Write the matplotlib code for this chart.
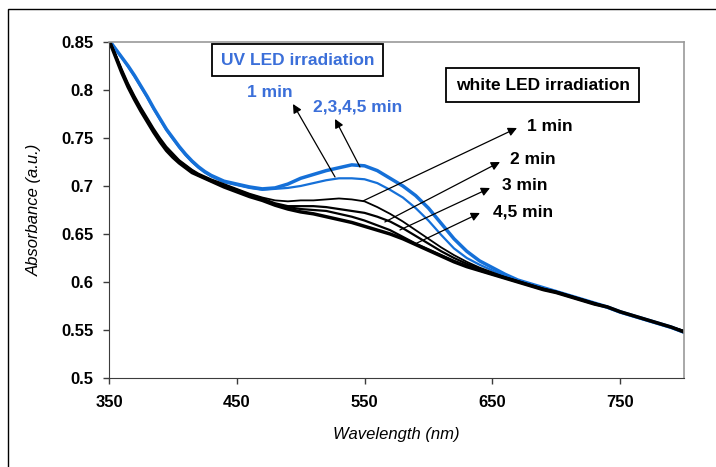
from matplotlib import pyplot as plt
from matplotlib.patches import Rectangle
import numpy as np

plt.rcParams['font.family'] = ['Liberation Sans', 'DejaVu Sans']

# wavelength grid (nm)
wl = [350, 355, 360, 365, 370, 375, 380, 385, 390, 395, 400, 405, 410, 415, 420, 425, 430,
      440, 450, 460, 470, 480, 490, 500, 510, 520, 530, 540, 550, 560, 570, 580, 590, 600,
      610, 620, 630, 640, 650, 660, 670, 680, 690, 700, 710, 720, 730, 740, 750, 760, 770,
      780, 790, 800]

# UV LED irradiation
uv_1min = [.852, .843, .834, .824, .814, .803, .792, .780, .769, .758, .749, .740, .732, .725, .719, .714, .710,
           .704, .701, .698, .696, .697, .698, .700, .703, .706, .708, .708, .707, .703, .696, .688, .677, .664,
           .649, .635, .625, .618, .612, .606, .601, .597, .593, .589, .585, .581, .577, .573, .568, .564, .560,
           .556, .552, .547]
uv_2to5min = [.852, .843, .834, .825, .815, .804, .793, .781, .770, .759, .750, .741, .733, .726, .720, .715, .711,
              .705, .702, .699, .697, .698, .702, .708, .712, .716, .719, .722, .721, .716, .708, .700, .690, .677,
              .661, .645, .632, .622, .615, .608, .602, .598, .594, .590, .586, .582, .578, .574, .569, .565, .561,
              .557, .553, .548]

# white LED irradiation
w_1min = [.852, .838, .822, .807, .794, .782, .771, .760, .750, .741, .734, .727, .722, .717, .713, .710, .707,
          .702, .697, .692, .688, .685, .684, .685, .685, .686, .687, .686, .684, .678, .671, .663, .654, .645,
          .636, .628, .621, .615, .610, .605, .601, .597, .593, .590, .586, .582, .578, .574, .569, .565, .561,
          .557, .553, .549]
w_2min = [.852, .837, .820, .805, .792, .780, .769, .758, .748, .739, .732, .726, .721, .716, .712, .709, .706,
          .701, .696, .691, .687, .682, .679, .679, .679, .678, .676, .674, .672, .668, .663, .656, .648, .640,
          .632, .625, .619, .614, .609, .605, .601, .597, .593, .590, .586, .582, .578, .574, .569, .565, .561,
          .557, .553, .549]
w_3min = [.852, .836, .819, .804, .791, .779, .768, .757, .747, .738, .731, .725, .720, .715, .711, .708, .705,
          .700, .695, .690, .686, .681, .678, .676, .675, .674, .671, .668, .664, .659, .654, .647, .640, .634,
          .628, .622, .617, .612, .608, .604, .600, .596, .592, .589, .585, .581, .577, .574, .569, .565, .561,
          .557, .553, .548]
w_45min = [.852, .835, .818, .803, .790, .778, .767, .756, .746, .737, .730, .724, .719, .714, .711, .708, .705,
           .699, .694, .689, .685, .680, .676, .673, .671, .668, .665, .662, .658, .654, .650, .645, .639, .633,
           .627, .621, .616, .612, .608, .604, .600, .596, .592, .589, .585, .581, .577, .574, .569, .565, .561,
           .557, .553, .548]

xticks = [350, 450, 550, 650, 750]
yticks = [0.5, 0.55, 0.6, 0.65, 0.7, 0.75, 0.8, 0.85]
ytick_labels = ['0.5', '0.55', '0.6', '0.65', '0.7', '0.75', '0.8', '0.85']

blue = '#1570d8'
blue_txt = '#3b6fd9'

fig = plt.figure(figsize=(7.16, 4.67), dpi=100)
ax = fig.add_axes([0.1522, 0.1906, 0.8031, 0.7195])

# outer frame, cut off on the right and bottom like the original
top = 1 - 9 / 467
fig.patches.append(Rectangle((8 / 716, -0.2), 1.2, top + 0.2, transform=fig.transFigure,
                             fill=False, ec='black', lw=1.0))

ax.plot(wl, uv_1min, color=blue, lw=1.6)
ax.plot(wl, uv_2to5min, color=blue, lw=2.5)
ax.plot(wl, w_1min, color='black', lw=1.3)
ax.plot(wl, w_2min, color='black', lw=1.6)
ax.plot(wl, w_3min, color='black', lw=1.6)
ax.plot(wl, w_45min, color='black', lw=2.5)

ax.set_xlim(350, 800)
ax.set_ylim(0.5, 0.85)
ax.set_xticks(xticks)
ax.set_yticks(yticks)
ax.set_yticklabels(ytick_labels)
for lab in ax.get_xticklabels() + ax.get_yticklabels():
    lab.set_fontweight('bold')
ax.tick_params(axis='both', direction='out', length=4.3, width=1, color='#3c3c3c', labelsize=12)
ax.tick_params(axis='x', pad=8)
ax.tick_params(axis='y', pad=7)
for s in ['left', 'bottom']:
    ax.spines[s].set_color('#3c3c3c')
for s in ['top', 'right']:
    ax.spines[s].set_color('#9a9a9a')
    ax.spines[s].set_linewidth(1.2)

ax.set_xlabel('Wavelength (nm)', fontsize=12, style='italic', labelpad=12)
ax.set_ylabel('Absorbance (a.u.)', fontsize=12, style='italic', labelpad=14)

# boxes
ax.text(497.5, 0.831, 'UV LED irradiation', color=blue_txt, fontsize=12.5, fontweight='bold',
        ha='center', va='center', bbox=dict(boxstyle='square,pad=0.5', fc='white', ec='black', lw=1.3))
ax.text(689.6, 0.805, 'white LED irradiation', color='black', fontsize=12.5, fontweight='bold',
        ha='center', va='center', bbox=dict(boxstyle='square,pad=0.55', fc='white', ec='black', lw=1.3))

arrow = dict(arrowstyle='-|>', color='black', lw=0.9, mutation_scale=13, shrinkA=0, shrinkB=0)

# UV labels and arrows
ax.text(475.6, 0.797, '1 min', color=blue_txt, fontsize=12.5, fontweight='bold', ha='center', va='center')
ax.text(544.5, 0.782, '2,3,4,5 min', color=blue_txt, fontsize=12.5, fontweight='bold', ha='center', va='center')
ax.annotate('', xy=(494, 0.7854), xytext=(526.9, 0.7094), arrowprops=arrow)
ax.annotate('', xy=(526.9, 0.7698), xytext=(546.4, 0.7198), arrowprops=arrow)

# white LED labels and arrows
w_labels = ['1 min', '2 min', '3 min', '4,5 min']
w_text = [(677.1, 0.7615), (663.8, 0.7271), (657.6, 0.700), (650.5, 0.6729)]
w_head = [(669.3, 0.7604), (656.0, 0.725), (648.2, 0.6979), (640.3, 0.6719)]
w_tail = [(548.8, 0.6844), (565.9, 0.6625), (577.7, 0.6542), (589.5, 0.6396)]
for lab, t, h, s in zip(w_labels, w_text, w_head, w_tail):
    ax.annotate('', xy=h, xytext=s, arrowprops=arrow)
    ax.text(t[0], t[1], lab, color='black', fontsize=12.5, fontweight='bold', ha='left', va='center')

fig.savefig('out.png', dpi=100)
